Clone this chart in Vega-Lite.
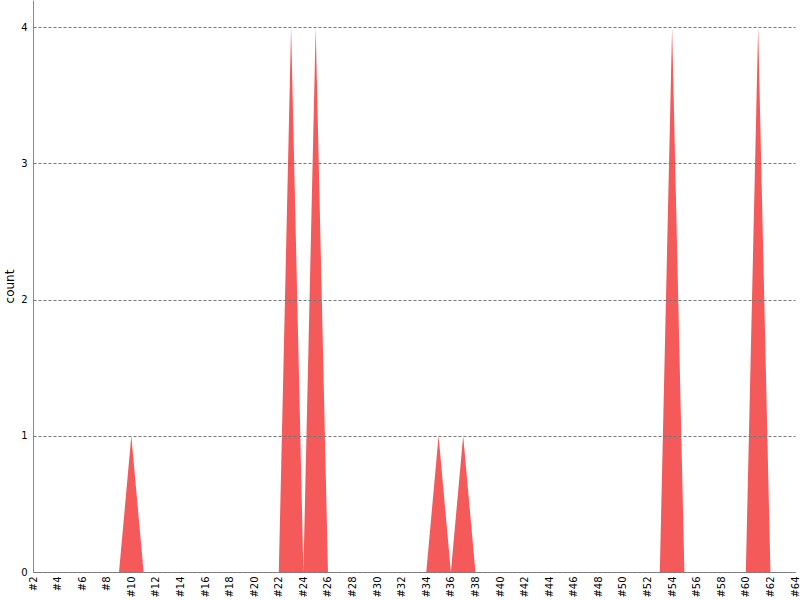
{
  "$schema": "https://vega.github.io/schema/vega-lite/v6.json",
  "width": 762,
  "height": 572,
  "autosize": "none",
  "padding": {"left": 33, "top": 0, "right": 5, "bottom": 28},
  "background": "white",
  "config": {
    "view": {"stroke": null},
    "font": "DejaVu Sans",
    "axis": {
      "labelFont": "DejaVu Sans",
      "labelFontSize": 10,
      "labelColor": "black",
      "titleFont": "DejaVu Sans",
      "titleFontWeight": "normal",
      "titleColor": "black",
      "domainColor": "#888888",
      "ticks": false,
      "grid": false
    }
  },
  "data": {
    "values": [
      {"n": 2, "count": 0}, {"n": 3, "count": 0}, {"n": 4, "count": 0}, {"n": 5, "count": 0},
      {"n": 6, "count": 0}, {"n": 7, "count": 0}, {"n": 8, "count": 0}, {"n": 9, "count": 0},
      {"n": 10, "count": 1}, {"n": 11, "count": 0}, {"n": 12, "count": 0}, {"n": 13, "count": 0},
      {"n": 14, "count": 0}, {"n": 15, "count": 0}, {"n": 16, "count": 0}, {"n": 17, "count": 0},
      {"n": 18, "count": 0}, {"n": 19, "count": 0}, {"n": 20, "count": 0}, {"n": 21, "count": 0},
      {"n": 22, "count": 0}, {"n": 23, "count": 4}, {"n": 24, "count": 0}, {"n": 25, "count": 4},
      {"n": 26, "count": 0}, {"n": 27, "count": 0}, {"n": 28, "count": 0}, {"n": 29, "count": 0},
      {"n": 30, "count": 0}, {"n": 31, "count": 0}, {"n": 32, "count": 0}, {"n": 33, "count": 0},
      {"n": 34, "count": 0}, {"n": 35, "count": 1}, {"n": 36, "count": 0}, {"n": 37, "count": 1},
      {"n": 38, "count": 0}, {"n": 39, "count": 0}, {"n": 40, "count": 0}, {"n": 41, "count": 0},
      {"n": 42, "count": 0}, {"n": 43, "count": 0}, {"n": 44, "count": 0}, {"n": 45, "count": 0},
      {"n": 46, "count": 0}, {"n": 47, "count": 0}, {"n": 48, "count": 0}, {"n": 49, "count": 0},
      {"n": 50, "count": 0}, {"n": 51, "count": 0}, {"n": 52, "count": 0}, {"n": 53, "count": 0},
      {"n": 54, "count": 4}, {"n": 55, "count": 0}, {"n": 56, "count": 0}, {"n": 57, "count": 0},
      {"n": 58, "count": 0}, {"n": 59, "count": 0}, {"n": 60, "count": 0}, {"n": 61, "count": 4},
      {"n": 62, "count": 0}, {"n": 63, "count": 0}, {"n": 64, "count": 0}
    ]
  },
  "mark": {"type": "area", "color": "#f45a5a", "opacity": 1},
  "encoding": {
    "x": {
      "field": "n",
      "type": "quantitative",
      "scale": {"domain": [2, 64], "nice": false, "zero": false},
      "axis": {
        "title": null,
        "values": [2, 4, 6, 8, 10, 12, 14, 16, 18, 20, 22, 24, 26, 28, 30, 32, 34, 36, 38, 40, 42, 44, 46, 48, 50, 52, 54, 56, 58, 60, 62, 64],
        "labelExpr": "'#' + datum.value",
        "labelAngle": -90,
        "labelOverlap": false,
        "labelPadding": 4
      }
    },
    "y": {
      "field": "count",
      "type": "quantitative",
      "scale": {"domain": [0, 4.2], "nice": false},
      "axis": {
        "title": "count",
        "titleFontSize": 12,
        "titlePadding": 4,
        "values": [0, 1, 2, 3, 4],
        "format": "d",
        "labelPadding": 6,
        "grid": true,
        "gridColor": "#777777",
        "gridDash": [3, 2],
        "gridWidth": 1,
        "zindex": 1
      }
    }
  }
}
